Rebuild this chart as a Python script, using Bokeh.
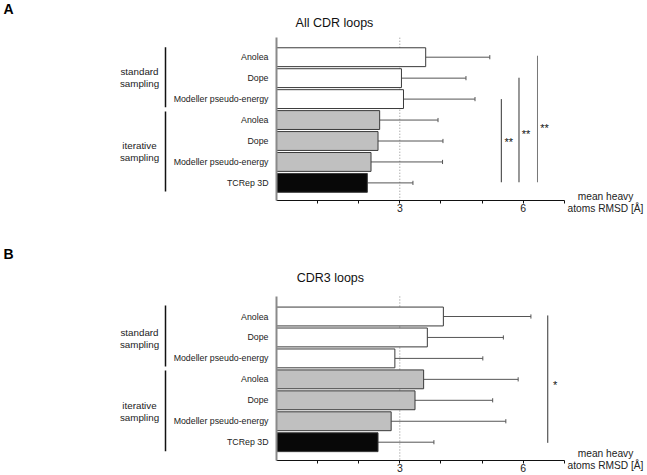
from bokeh.plotting import figure
from bokeh.models import Range1d, FixedTicker, ColumnDataSource
from bokeh.layouts import column
from bokeh.core.properties import value
from bokeh.embed import file_html
from bokeh.resources import INLINE

# ---------------- data ----------------
categories = ["Anolea", "Dope", "Modeller pseudo-energy",
              "Anolea", "Dope", "Modeller pseudo-energy", "TCRep 3D"]
groups = ["standard\nsampling", "iterative\nsampling"]
bar_fill = ["#ffffff", "#ffffff", "#ffffff", "#c0c0c0", "#c0c0c0", "#c0c0c0", "#080808"]

all_cdr_mean = [3.63, 3.04, 3.09, 2.51, 2.47, 2.30, 2.21]
all_cdr_sd = [1.56, 1.57, 1.74, 1.42, 1.58, 1.74, 1.11]

cdr3_mean = [4.06, 3.67, 2.88, 3.58, 3.37, 2.79, 2.47]
cdr3_sd = [2.13, 1.85, 2.14, 2.30, 1.89, 2.79, 1.36]

x_ticks = [1, 2, 3, 4, 5, 6, 7]
x_tick_labels = {1: "", 2: "", 3: "3", 4: "", 5: "", 6: "6", 7: ""}
x_label = "mean heavy\natoms RMSD [Å]"

# significance brackets: (x, row_from, row_to, label, label_x, label_row)
all_cdr_sig = [(5.47, 2.0, 5.97, "**", 5.65, 4.05),
               (5.90, 0.98, 5.97, "**", 6.07, 3.65),
               (6.35, -0.07, 5.97, "**", 6.52, 3.36)]
cdr3_sig = [(6.60, -0.05, 6.03, "*", 6.78, 3.25)]

FONT = "Liberation Sans"
W = 647
X0_PX = 276.0      # pixel of value 0
X_PX = 41.1        # pixels per RMSD unit
ROW_PX = 20.95     # pixels per bar row


def make_panel(letter, title, means, sds, sigs, height, row0, axis_top,
               axis_bottom, title_xy, letter_row, xlab_row, brackets,
               group_rows, sig_colors):
    xr = Range1d(-X0_PX / X_PX, (W - X0_PX) / X_PX)
    yr = Range1d((height - row0) / ROW_PX, -row0 / ROW_PX)
    p = figure(width=W, height=height, output_backend="svg",
               toolbar_location=None, x_range=xr, y_range=yr, min_border=0)
    p.outline_line_color = None
    p.xgrid.visible = False
    p.ygrid.visible = False
    p.background_fill_color = "white"
    p.border_fill_color = "white"

    rows = list(range(len(categories)))
    err = [m + s for m, s in zip(means, sds)]
    src = ColumnDataSource(dict(y=rows, right=means, fill=bar_fill, err=err,
                                y0=[r - 0.1 for r in rows],
                                y1=[r + 0.1 for r in rows]))

    p.segment(x0=[3], y0=[axis_top], x1=[3], y1=[axis_bottom],
              line_color="#8a8a8a", line_dash="1 2", line_width=1)
    p.segment(x0="right", y0="y", x1="err", y1="y", source=src,
              line_color="#555555", line_width=1)
    p.segment(x0="err", y0="y0", x1="err", y1="y1", source=src,
              line_color="#555555", line_width=1)
    p.hbar(y="y", left=0, right="right", height=0.9, source=src,
           fill_color="fill", line_color="#3a3a3a", line_width=1)

    for (sx, r0, r1, lab, tx, ty), col in zip(sigs, sig_colors):
        p.segment(x0=[sx], y0=[r0], x1=[sx], y1=[r1], line_color=col, line_width=1)
        p.text(x=[tx], y=[ty], text=[lab], text_font=value(FONT),
               text_font_size="11px", text_align="center",
               text_baseline="middle", text_color="#111111")

    # titles and annotations
    p.text(x=[title_xy[0]], y=[title_xy[1]], text=[title], text_font=value(FONT),
           text_font_size="12.5px", text_align="center", text_baseline="middle",
           text_color="#111111")
    p.text(x=[(3 - X0_PX) / X_PX], y=[letter_row], text=[letter],
           text_font=value(FONT), text_font_size="14px",
           text_font_style="bold", text_align="left", text_baseline="middle",
           text_color="#000000")
    for (b0, b1), gy, g in zip(brackets, group_rows, groups):
        bx = (165 - X0_PX) / X_PX
        p.segment(x0=[bx], y0=[b0], x1=[bx], y1=[b1], line_color="#111111",
                  line_width=1.5)
        p.text(x=[(139 - X0_PX) / X_PX], y=[gy], text=[g], text_font=value(FONT),
               text_font_size="9.8px", text_align="center",
               text_baseline="middle", text_line_height=1.1,
               text_color="#222222")
    p.text(x=[(605 - X0_PX) / X_PX], y=[xlab_row], text=[x_label],
           text_font=value(FONT), text_font_size="10.2px", text_align="center",
           text_baseline="middle", text_line_height=1.05, text_color="#222222")

    # axes, fixed inside the frame
    xa = p.xaxis[0]
    xa.fixed_location = axis_bottom
    xa.bounds = (0, 7)
    xa.ticker = FixedTicker(ticks=x_ticks)
    xa.major_label_overrides = x_tick_labels
    xa.minor_tick_line_color = None
    xa.major_tick_in = 0
    xa.major_tick_out = 3
    xa.axis_line_color = "#111111"
    xa.major_tick_line_color = "#111111"
    xa.major_label_text_font = FONT
    xa.major_label_text_font_size = "10.5px"
    xa.major_label_text_color = "#222222"
    xa.major_label_standoff = 1

    ya = p.yaxis[0]
    ya.fixed_location = 0
    ya.bounds = (axis_top, axis_bottom)
    ya.ticker = FixedTicker(ticks=rows)
    ya.major_label_overrides = {i: c for i, c in enumerate(categories)}
    ya.minor_tick_line_color = None
    ya.major_tick_line_color = None
    ya.major_tick_in = 0
    ya.major_tick_out = 0
    ya.axis_line_color = "#8a8a8a"
    ya.axis_line_width = 2
    ya.major_label_text_font = FONT
    ya.major_label_text_font_size = "8.8px"
    ya.major_label_text_color = "#222222"
    ya.major_label_standoff = 8
    return p


panel_a = make_panel("A", "All CDR loops", all_cdr_mean, all_cdr_sd, all_cdr_sig,
                     height=240, row0=56.7, axis_top=-0.93, axis_bottom=6.84,
                     title_xy=(1.41, -1.61), letter_row=-2.28, xlab_row=6.94,
                     brackets=[(-0.48, 2.39), (2.59, 6.41)],
                     group_rows=[0.98, 4.48],
                     sig_colors=["#333333", "#333333", "#777777"])
panel_b = make_panel("B", "CDR3 loops", cdr3_mean, cdr3_sd, cdr3_sig,
                     height=235, row0=76, axis_top=-0.955, axis_bottom=6.873,
                     title_xy=(1.31, -1.86), letter_row=-2.96, xlab_row=6.82,
                     brackets=[(-0.525, 2.39), (2.58, 6.43)],
                     group_rows=[1.03, 4.52],
                     sig_colors=["#333333"])

layout = column(panel_a, panel_b)
open("out.html", "w").write(file_html(layout, INLINE))
